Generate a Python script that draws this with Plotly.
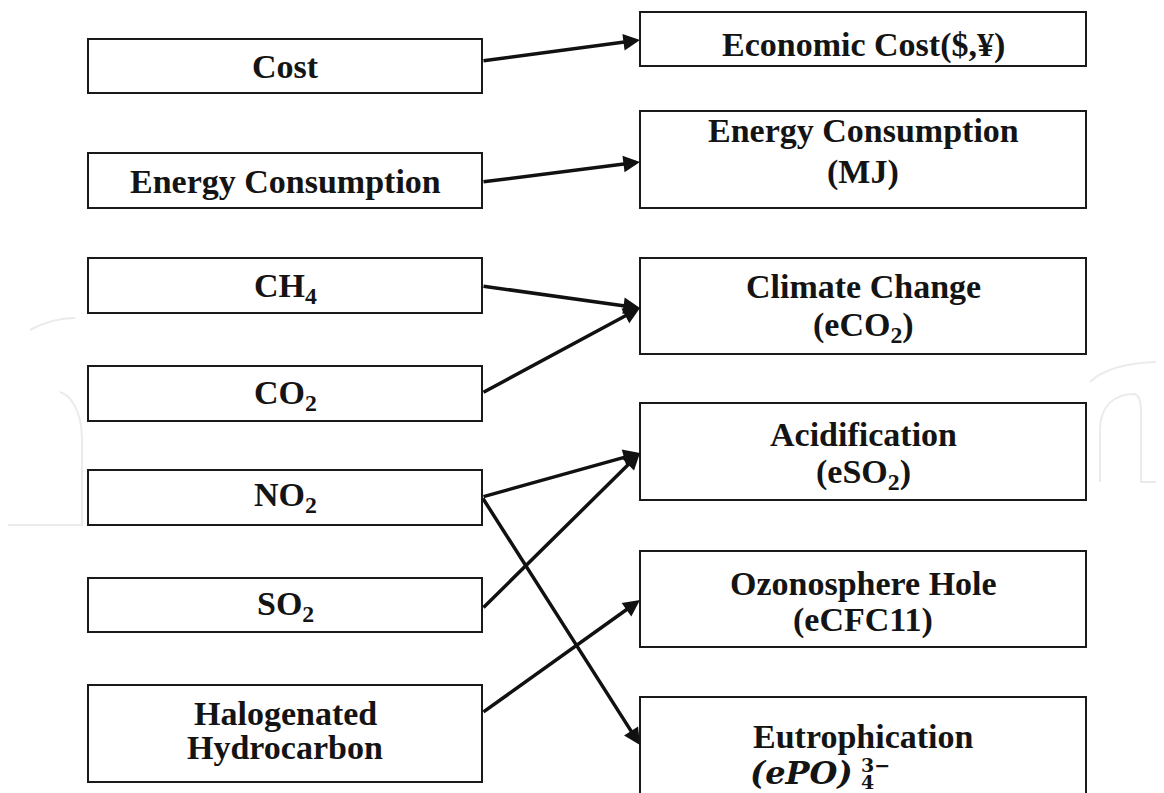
import plotly.graph_objects as go

# ---------------- data ----------------
left_nodes = ["Cost", "Energy Consumption", "CH4", "CO2", "NO2", "SO2",
              "Halogenated Hydrocarbon"]
right_nodes = ["Economic Cost($,¥)", "Energy Consumption (MJ)", "Climate Change (eCO2)",
               "Acidification (eSO2)", "Ozonosphere Hole (eCFC11)", "Eutrophication (ePO)4 3-"]
left_label_lines = [["Cost"], ["Energy Consumption"], ["CH<sub>4</sub>"], ["CO<sub>2</sub>"],
                    ["NO<sub>2</sub>"], ["SO<sub>2</sub>"], ["Halogenated", "Hydrocarbon"]]
right_label_lines = [["Economic Cost($,¥)"], ["Energy Consumption", "(MJ)"],
                     ["Climate Change", "(eCO<sub>2</sub>)"], ["Acidification", "(eSO<sub>2</sub>)"],
                     ["Ozonosphere Hole", "(eCFC11)"], ["Eutrophication"]]
# links: (left node index, right node index)
links = [(0, 0), (1, 1), (2, 2), (3, 2), (4, 3), (4, 5), (5, 3), (6, 4)]

# ---------------- layout (page pixel space) ----------------
W, H = 1164, 793
OFF = 8  # page body margin
LEFT_X = (88, 482)
RIGHT_X = (640, 1086)
left_box_y = [(39, 93), (153, 208), (258, 313), (366, 421), (470, 525), (578, 632), (685, 782)]
right_box_y = [(12, 66), (111, 208), (258, 354), (403, 500), (551, 647), (697, 810)]
left_text_y = [[66], [181.5], [287.5], [395], [497], [606], [713, 747]]
right_text_y = [[45], [130, 172], [286, 327], [434, 474], [583, 620], [736]]
link_tail_y = [61, 182, 286, 393, 497, 497, 609, 713]
link_head_y = [40, 162, 308, 308, 453, 745, 453, 600]

FONT = "Liberation Serif"
TXT = "#141414"
FS = 34

fig = go.Figure()
fig.add_trace(go.Scatter(x=[OFF, W], y=[OFF, H], mode="markers",
                         marker=dict(opacity=0), hoverinfo="skip", showlegend=False))

shapes = []
annotations = []

def box(x0, x1, y0, y1):
    shapes.append(dict(type="rect", xref="x", yref="y", x0=x0, x1=x1, y0=y0, y1=y1,
                       line=dict(color="#1a1a1a", width=2), fillcolor="white", layer="above"))

def text(x, y, s, size=FS, family=FONT, anchor="center"):
    annotations.append(dict(x=x, y=y, xref="x", yref="y", text=s, showarrow=False,
                            xanchor=anchor, yanchor="middle",
                            font=dict(family=family, size=size, color=TXT)))

# faint watermark fragments (background)
wm = dict(type="path", xref="x", yref="y", line=dict(color="#ebebeb", width=2), layer="below")
shapes.append(dict(wm, path="M 1090,382 C 1105,368 1130,362 1164,362"))
shapes.append(dict(wm, path="M 1100,482 L 1100,430 C 1100,405 1115,394 1135,394 "
                             "C 1140,396 1141,405 1141,412 L 1141,482 L 1164,482"))
shapes.append(dict(wm, path="M 30,330 C 45,322 60,318 75,318"))
shapes.append(dict(wm, path="M 0,525 L 82,525 L 82,440 C 82,410 70,395 60,392"))

lx = (LEFT_X[0] + LEFT_X[1]) / 2
rx = (RIGHT_X[0] + RIGHT_X[1]) / 2

for i, name in enumerate(left_nodes):
    y0, y1 = left_box_y[i]
    box(LEFT_X[0], LEFT_X[1], y0, y1)
    for line, ty in zip(left_label_lines[i], left_text_y[i]):
        text(lx, ty, "<b>" + line + "</b>")

for i, name in enumerate(right_nodes):
    y0, y1 = right_box_y[i]
    box(RIGHT_X[0], RIGHT_X[1], y0, y1)
    for line, ty in zip(right_label_lines[i], right_text_y[i]):
        text(rx, ty, "<b>" + line + "</b>")

# math line of Eutrophication: (ePO)_4^{3-}
text(801, 773, "<b><i>(ePO)</i></b>", size=32, family="DejaVu Serif")
text(859, 765, "<b>3−</b>", size=19, family="DejaVu Serif", anchor="left")
text(859, 782, "<b>4</b>", size=19, family="DejaVu Serif", anchor="left")

for k, (s, t) in enumerate(links):
    annotations.append(dict(x=RIGHT_X[0], y=link_head_y[k], ax=LEFT_X[1], ay=link_tail_y[k],
                            xref="x", yref="y", axref="x", ayref="y", text="",
                            showarrow=True, arrowhead=2, arrowsize=0.95, arrowwidth=3.5,
                            arrowcolor="#111111", standoff=0, startstandoff=0))

fig.update_layout(
    width=W - OFF, height=H - OFF, margin=dict(l=0, r=0, t=0, b=0),
    paper_bgcolor="white", plot_bgcolor="white",
    xaxis=dict(range=[OFF, W], visible=False, fixedrange=True),
    yaxis=dict(range=[H, OFF], visible=False, fixedrange=True),
    shapes=shapes, annotations=annotations, showlegend=False,
)

fig.write_html("out.html")
